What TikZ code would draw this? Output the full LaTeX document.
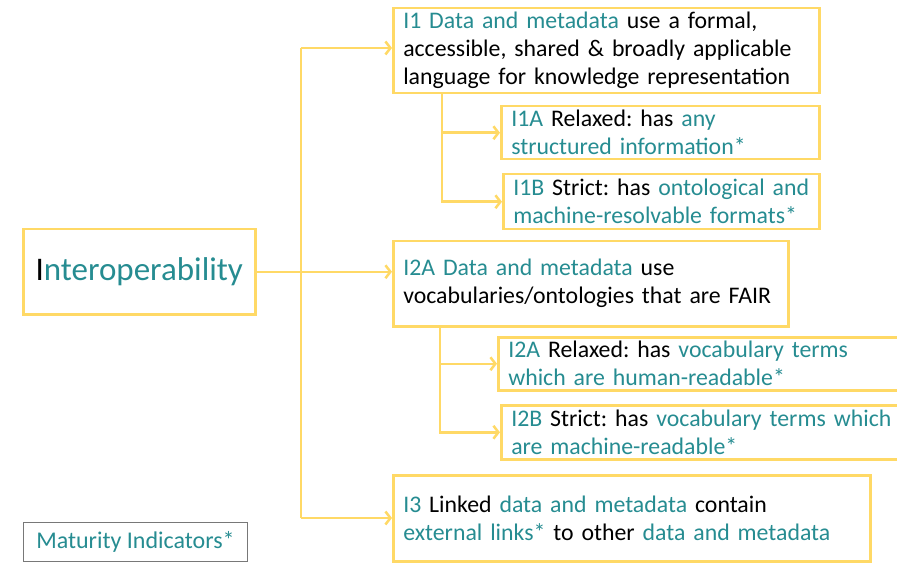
\documentclass[tikz,border=0pt]{standalone}
\usepackage{fontspec}
\setmainfont{Carlito}
\frenchspacing
\usetikzlibrary{arrows.meta,positioning}
\definecolor{gold}{RGB}{255,217,102}
\definecolor{tealtext}{RGB}{38,140,145}
\definecolor{greyline}{RGB}{120,120,120}
\newcommand{\hlt}[1]{\textcolor{tealtext}{#1}}
\tikzset{
    principle/.style={
    rectangle,draw=gold,line width=2.5pt,inner xsep=10pt,inner ysep=0pt,
    align=left,anchor=north west,font=\fontsize{23.8}{28}\selectfont
    },
    title/.style={
    rectangle,draw=gold,line width=2.5pt,anchor=north west,
    minimum width=232pt,minimum height=85pt,font=\fontsize{33}{40}\selectfont
    },
    legend/.style={
    rectangle,draw=greyline,line width=0.9pt,anchor=north west,
    minimum width=224pt,minimum height=39pt,font=\fontsize{24}{28}\selectfont
    },
    link/.style={
    draw=gold,line width=2.5pt
    },
    arr/.style={
    link,-{Straight Barb[length=5pt,width=13pt,line width=2.5pt]}
    },
}
\begin{document}
\begin{tikzpicture}[x=1pt,y=-1pt]
   \useasboundingbox (0,0) rectangle (897,564);
   \clip (0,0) rectangle (897,564);
   % main concept
   \node[title] (interop) at (22,228) {I\hlt{nteroperability}};
   % principles
   \node[principle,text width=406pt,minimum height=85pt] (i1) at (392,7)
     {\hlt{I1 Data and metadata} use a formal,\\accessible, shared \& broadly applicable\\language for knowledge representation};
   \node[principle,text width=298pt,minimum height=53pt] (i1a) at (500,105)
     {\hlt{I1A} Relaxed: has \hlt{any}\\\hlt{structured information*}};
   \node[principle,text width=296pt,minimum height=55pt] (i1b) at (502,173)
     {\hlt{I1B} Strict: has \hlt{ontological and}\\\hlt{machine-resolvable formats*}};
   \node[principle,text width=375pt,minimum height=85pt] (i2) at (392,240)
     {\hlt{I2A Data and metadata} use\\vocabularies/ontologies that are FAIR};
   \node[principle,text width=420pt,minimum height=53pt] (i2a) at (497,336)
     {\hlt{I2A} Relaxed: has \hlt{vocabulary terms}\\\hlt{which are human-readable*}};
   \node[principle,text width=420pt,minimum height=54pt] (i2b) at (500,404)
     {\hlt{I2B} Strict: has \hlt{vocabulary terms which}\\\hlt{are machine-readable*}};
   \node[principle,text width=457pt,minimum height=86pt] (i3) at (392,474)
     {\hlt{I3} Linked \hlt{data and metadata} contain\\\hlt{external links*} to other \hlt{data and metadata}};
   \node[legend] (legend) at (23,522) {\hlt{Maturity Indicators*}};
   % connectors
   \coordinate (ttop) at (301,48);
   \coordinate (tbot) at (301,518);
   \draw[link] (ttop) -- (tbot);
   \draw[arr] (ttop) -- (ttop -| i1.west);
   \draw[arr] (interop.east) -- (interop.east -| i2.west);
   \draw[arr] (tbot) -- (tbot -| i3.west);
   \coordinate (b1) at ([xshift=50pt]i1.south west);
   \draw[arr] (b1) |- (i1a.west);
   \draw[arr] (b1) |- (i1b.west);
   \coordinate (b2) at ([xshift=48pt]i2.south west);
   \draw[arr] (b2) |- (i2a.west);
   \draw[arr] (b2) |- (i2b.west);
\end{tikzpicture}
\end{document}
